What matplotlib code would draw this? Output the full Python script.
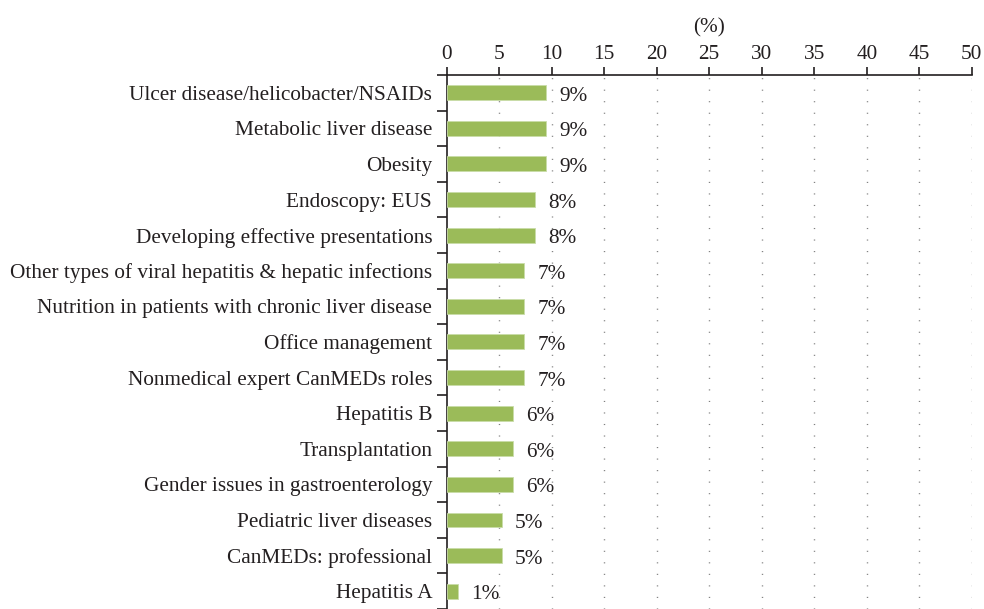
import numpy as np
import matplotlib.pyplot as plt

plt.rcParams['font.family'] = ['Liberation Serif', 'DejaVu Serif']

# sujets proposés, du haut vers le bas
sujets = [
    "Ulcer disease/helicobacter/NSAIDs",
    "Metabolic liver disease",
    "Obesity",
    "Endoscopy: EUS",
    "Developing effective presentations",
    "Other types of viral hepatitis & hepatic infections",
    "Nutrition in patients with chronic liver disease",
    "Office management",
    "Nonmedical expert CanMEDs roles",
    "Hepatitis B",
    "Transplantation",
    "Gender issues in gastroenterology",
    "Pediatric liver diseases",
    "CanMEDs: professional",
    "Hepatitis A",
]
pourcents = [9.47, 9.47, 9.47, 8.42, 8.42, 7.37, 7.37, 7.37, 7.37,
             6.32, 6.32, 6.32, 5.26, 5.26, 1.05]
etiquettes = ["9%", "9%", "9%", "8%", "8%", "7%", "7%", "7%", "7%",
              "6%", "6%", "6%", "5%", "5%", "1%"]
graduations = [0, 5, 10, 15, 20, 25, 30, 35, 40, 45, 50]

couleur_texte = '#231f20'
taille = 15.3

fig = plt.figure(figsize=(9.84, 6.09), dpi=100)
ax = fig.add_axes([0.454, 0.0, 0.5335, 0.877])

y = np.arange(len(sujets))
ax.barh(y, pourcents, height=0.42, color='#9bbb59', edgecolor='#c9dca8',
        linewidth=0.6, zorder=3)

for yi, v, lab in zip(y, pourcents, etiquettes):
    ax.annotate(lab, (v, yi), xytext=(9.5, -2.5), textcoords='offset points',
                va='center', ha='left', fontsize=taille, color=couleur_texte)

ax.set_ylim(len(sujets) - 0.5, -0.5)
ax.set_xlim(0, 50)
ax.set_yticks(y)
ax.set_yticklabels(sujets, fontsize=taille, color=couleur_texte)
ax.set_yticks(np.arange(len(sujets) + 1) - 0.5, minor=True)
ax.tick_params(axis='y', which='major', length=0, pad=10.5)
ax.tick_params(axis='y', which='minor', length=7, width=1.2, color=couleur_texte)

ax.xaxis.tick_top()
ax.xaxis.set_label_position('top')
ax.set_xticks(graduations)
ax.set_xticklabels([str(g) for g in graduations], fontsize=taille, color=couleur_texte)
ax.tick_params(axis='x', length=6, width=1.2, color=couleur_texte, pad=2)
ax.set_xlabel("(%)", fontsize=taille, color=couleur_texte, labelpad=9)

for g in graduations[1:]:
    ax.axvline(g, color='#808080', linewidth=1, linestyle=(0, (0.8, 7.5)), zorder=1)

for side in ['right', 'bottom']:
    ax.spines[side].set_visible(False)
ax.spines['top'].set_color(couleur_texte)
ax.spines['top'].set_linewidth(1.2)
ax.spines['left'].set_color(couleur_texte)
ax.spines['left'].set_linewidth(1.2)

fig.savefig('out.png', dpi=100)
